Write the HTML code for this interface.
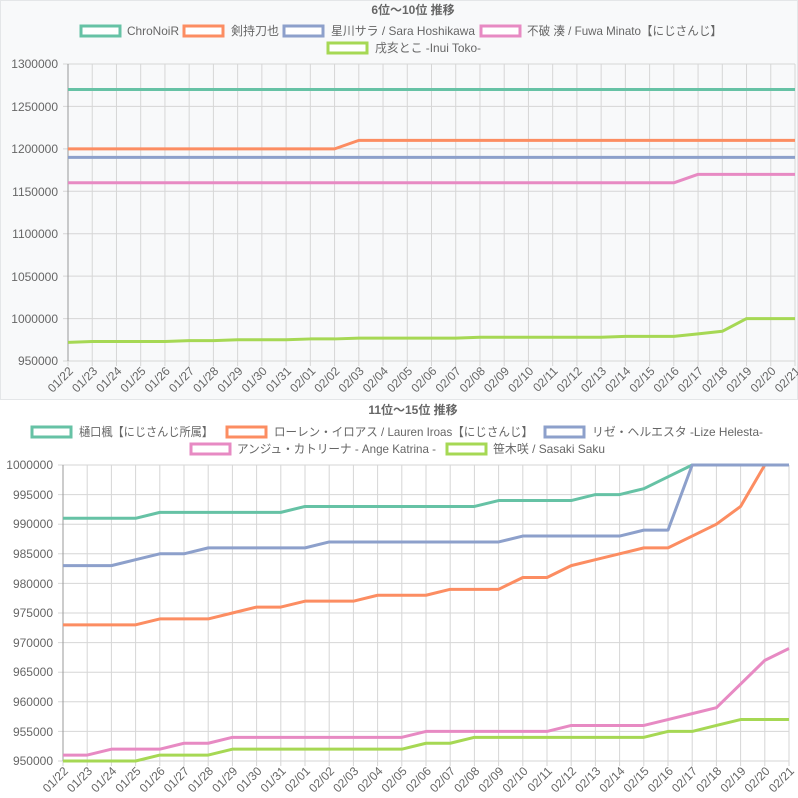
<!DOCTYPE html>
<html><head><meta charset="utf-8"><style>
body{margin:0;background:#fff}
svg{display:block;font-family:"Liberation Sans","Noto Sans CJK JP",sans-serif}
text{fill:#666;font-size:12px}
.t{font-weight:bold;text-anchor:middle}
.yl{text-anchor:end}
.xl{text-anchor:end}
</style></head><body>
<svg id="s" width="798" height="798" xmlns="http://www.w3.org/2000/svg">
<rect x="0" y="0" width="798" height="400" fill="#f8f9fa"/>
<rect x="0.5" y="0.5" width="797" height="399" fill="none" stroke="#e4e6e8"/>
<g id="grid"></g>
<text class="t" x="413" y="14">6位〜10位 推移</text>
<g stroke-width="3" fill="#fff">
<rect x="81" y="26" width="39" height="10" stroke="#66c2a5"/>
<rect x="184" y="26" width="39" height="10" stroke="#fc8d62"/>
<rect x="284" y="26" width="39" height="10" stroke="#8da0cb"/>
<rect x="481" y="26" width="39" height="10" stroke="#e78ac3"/>
<rect x="328" y="43" width="39" height="10" stroke="#a6d854"/>
</g>
<text x="127" y="35" textLength="52" lengthAdjust="spacingAndGlyphs">ChroNoiR</text>
<text x="231" y="35" textLength="48" lengthAdjust="spacingAndGlyphs">剣持刀也</text>
<text x="331" y="35" textLength="144" lengthAdjust="spacingAndGlyphs">星川サラ / Sara Hoshikawa</text>
<text x="527" y="35" textLength="195" lengthAdjust="spacingAndGlyphs">不破 湊 / Fuwa Minato【にじさんじ】</text>
<text x="375" y="52" textLength="106" lengthAdjust="spacingAndGlyphs">戌亥とこ -Inui Toko-</text>
<text class="yl" x="58" y="68">1300000</text>
<text class="yl" x="58" y="111">1250000</text>
<text class="yl" x="58" y="153">1200000</text>
<text class="yl" x="58" y="196">1150000</text>
<text class="yl" x="58" y="238">1100000</text>
<text class="yl" x="58" y="281">1050000</text>
<text class="yl" x="58" y="323">1000000</text>
<text class="yl" x="58" y="365">950000</text>

<text class="t" x="413" y="414">11位〜15位 推移</text>
<g stroke-width="3" fill="#fff">
<rect x="32" y="427" width="39" height="10" stroke="#66c2a5"/>
<rect x="227" y="427" width="39" height="10" stroke="#fc8d62"/>
<rect x="545" y="427" width="39" height="10" stroke="#8da0cb"/>
<rect x="191" y="444" width="39" height="10" stroke="#e78ac3"/>
<rect x="447" y="444" width="39" height="10" stroke="#a6d854"/>
</g>
<text x="79" y="436" textLength="134" lengthAdjust="spacingAndGlyphs">樋口楓【にじさんじ所属】</text>
<text x="274" y="436" textLength="259" lengthAdjust="spacingAndGlyphs">ローレン・イロアス / Lauren Iroas【にじさんじ】</text>
<text x="592" y="436" textLength="171" lengthAdjust="spacingAndGlyphs">リゼ・ヘルエスタ -Lize Helesta-</text>
<text x="237" y="453" textLength="199" lengthAdjust="spacingAndGlyphs">アンジュ・カトリーナ - Ange Katrina -</text>
<text x="493" y="453" textLength="112" lengthAdjust="spacingAndGlyphs">笹木咲 / Sasaki Saku</text>
<text class="yl" x="53" y="469">1000000</text>
<text class="yl" x="53" y="499">995000</text>
<text class="yl" x="53" y="528">990000</text>
<text class="yl" x="53" y="558">985000</text>
<text class="yl" x="53" y="588">980000</text>
<text class="yl" x="53" y="617">975000</text>
<text class="yl" x="53" y="647">970000</text>
<text class="yl" x="53" y="676">965000</text>
<text class="yl" x="53" y="706">960000</text>
<text class="yl" x="53" y="736">955000</text>
<text class="yl" x="53" y="765">950000</text>
<g id="lines"></g>
<g id="labs">
<text>01/22</text><text>01/23</text><text>01/24</text><text>01/25</text><text>01/26</text><text>01/27</text><text>01/28</text><text>01/29</text><text>01/30</text><text>01/31</text><text>02/01</text><text>02/02</text><text>02/03</text><text>02/04</text><text>02/05</text><text>02/06</text><text>02/07</text><text>02/08</text><text>02/09</text><text>02/10</text><text>02/11</text><text>02/12</text><text>02/13</text><text>02/14</text><text>02/15</text><text>02/16</text><text>02/17</text><text>02/18</text><text>02/19</text><text>02/20</text><text>02/21</text>
</g>
<g id="labs2">
<text>01/22</text><text>01/23</text><text>01/24</text><text>01/25</text><text>01/26</text><text>01/27</text><text>01/28</text><text>01/29</text><text>01/30</text><text>01/31</text><text>02/01</text><text>02/02</text><text>02/03</text><text>02/04</text><text>02/05</text><text>02/06</text><text>02/07</text><text>02/08</text><text>02/09</text><text>02/10</text><text>02/11</text><text>02/12</text><text>02/13</text><text>02/14</text><text>02/15</text><text>02/16</text><text>02/17</text><text>02/18</text><text>02/19</text><text>02/20</text><text>02/21</text>
</g>
</svg>
<script>
const NS="http://www.w3.org/2000/svg";
function el(p,t,a){const e=document.createElementNS(NS,t);for(const k in a)e.setAttribute(k,a[k]);p.appendChild(e);return e;}
const g=document.getElementById('grid'),L=document.getElementById('lines');
function chart(x0,x1,yt,yb,vmax,vmin,step,series,labs){
 const dx=(x1-x0)/30,X=i=>x0+i*dx,Y=v=>yt+(vmax-v)/(vmax-vmin)*(yb-yt);
 for(let i=0;i<=30;i++){el(g,'line',{x1:X(i),x2:X(i),y1:yt,y2:yb+5,stroke:'#d6d6d6','stroke-width':1});}
 for(let v=vmin;v<=vmax;v+=step){el(g,'line',{x1:x0-5,x2:x1,y1:Y(v),y2:Y(v),stroke:'#d6d6d6','stroke-width':1});}
 el(g,'line',{x1:x0,x2:x0,y1:yt,y2:yb,stroke:'#999','stroke-width':1});
 series.forEach(([c,d])=>{el(L,'polyline',{points:d.map((v,i)=>X(i)+','+Y(v)).join(' '),fill:'none',stroke:c,'stroke-width':3,'stroke-linejoin':'round'});});
 [...document.getElementById(labs).children].forEach((t,i)=>{const x=X(i)+3,y=yb+8;t.setAttribute('class','xl');t.setAttribute('transform',`translate(${x},${y}) rotate(-45)`);t.setAttribute('y','4');});
}
function r(spec){const a=[];spec.forEach(([v,n])=>{for(let i=0;i<n;i++)a.push(v)});return a;}
chart(68,795,64,361,1300000,950000,50000,[
 ['#66c2a5',r([[1270000,31]])],
 ['#fc8d62',r([[1200000,12],[1210000,19]])],
 ['#8da0cb',r([[1190000,31]])],
 ['#e78ac3',r([[1160000,26],[1170000,5]])],
 ['#a6d854',r([[972000,1],[973000,4],[974000,2],[975000,3],[976000,2],[977000,5],[978000,6],[979000,3],[982000,1],[985000,1],[1000000,3]])]
],'labs');
chart(63,789,465,761,1000000,950000,5000,[
 ['#66c2a5',r([[991000,4],[992000,6],[993000,8],[994000,4],[995000,2],[996000,1],[998000,1],[1000000,5]])],
 ['#fc8d62',r([[973000,4],[974000,3],[975000,1],[976000,2],[977000,3],[978000,3],[979000,3],[981000,2],[983000,1],[984000,1],[985000,1],[986000,2],[988000,1],[990000,1],[993000,1],[1000000,2]])],
 ['#8da0cb',r([[983000,3],[984000,1],[985000,2],[986000,5],[987000,8],[988000,5],[989000,2],[1000000,5]])],
 ['#e78ac3',r([[951000,2],[952000,3],[953000,2],[954000,8],[955000,6],[956000,4],[957000,1],[958000,1],[959000,1],[963000,1],[967000,1],[969000,1]])],
 ['#a6d854',r([[950000,4],[951000,3],[952000,8],[953000,2],[954000,8],[955000,2],[956000,1],[957000,3]])]
],'labs2');
</script>
</body></html>
